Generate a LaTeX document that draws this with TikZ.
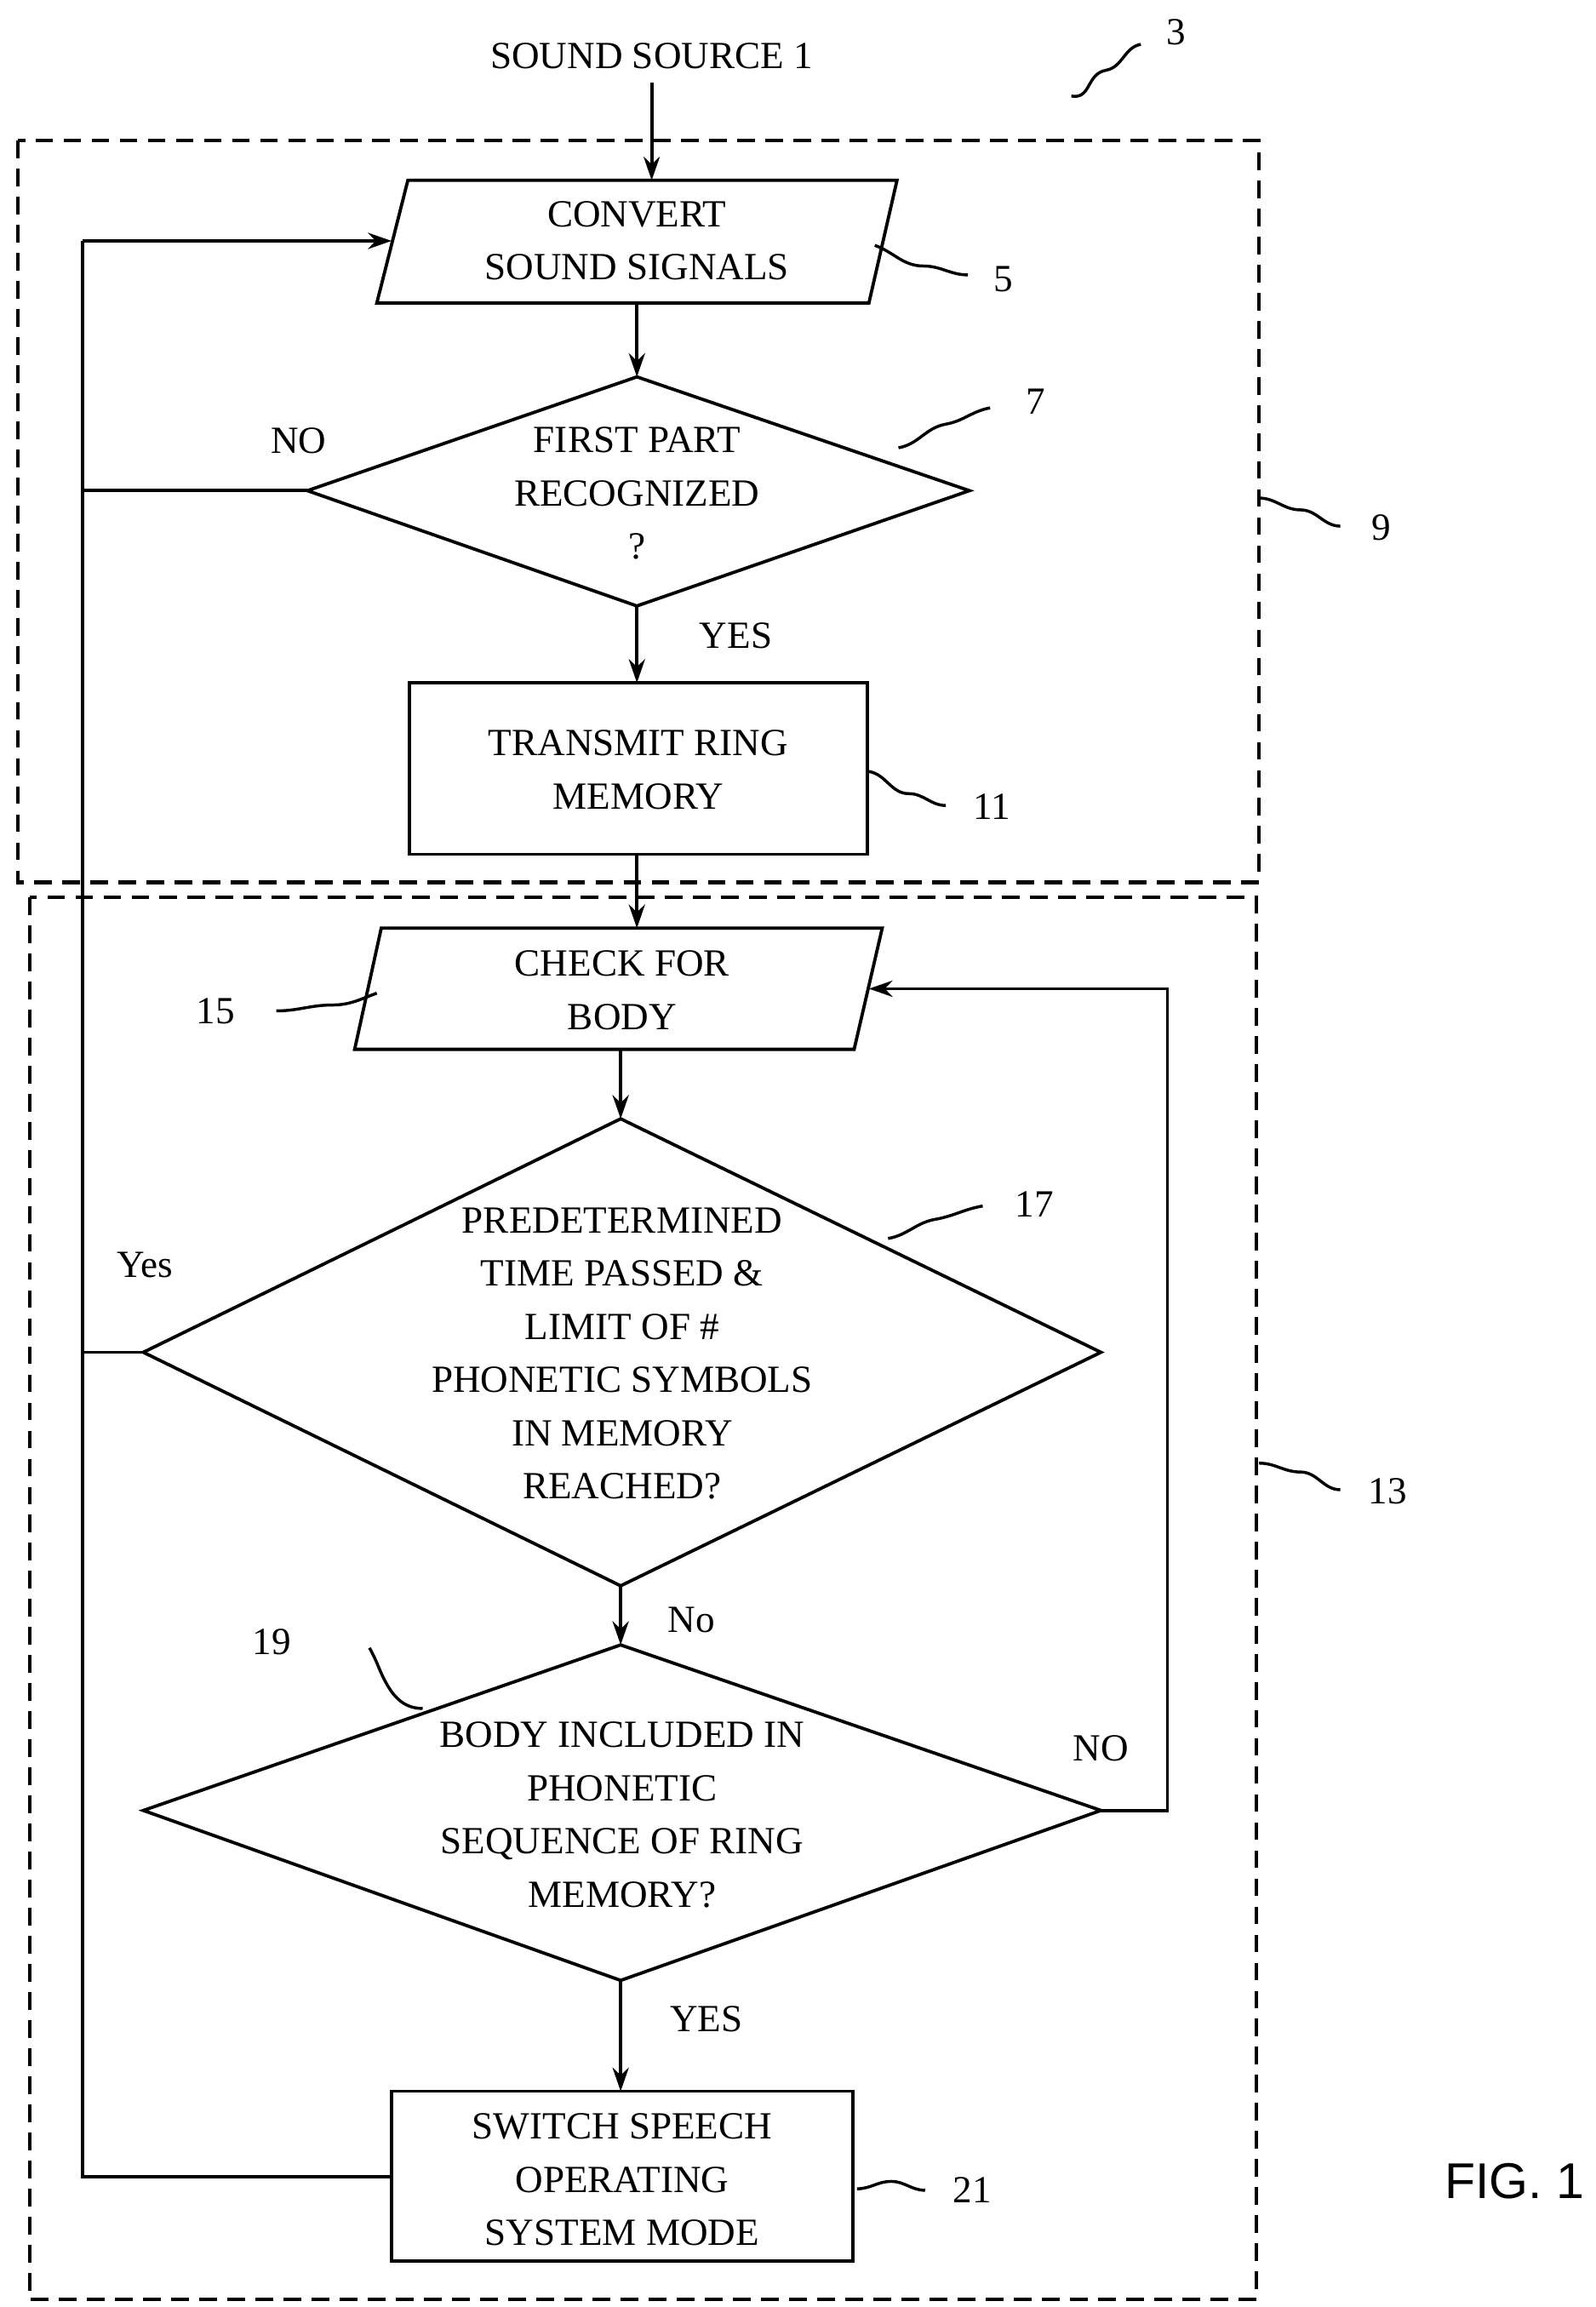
\documentclass[tikz,border=0pt]{standalone}
\usepackage{fontspec}
\setmainfont{Liberation Serif}
\newfontfamily\figfont{Liberation Sans}
\usetikzlibrary{arrows.meta,calc}
\begin{document}
\begin{tikzpicture}[x=1pt,y=-1pt,
  line width=2.2pt,
  txt/.style={font=\fontsize{26}{36}\selectfont, align=center, inner sep=0pt},
  lbl/.style={font=\fontsize{26}{30}\selectfont, inner sep=0pt},
  arr/.style={-{Stealth[length=16pt,width=11pt]}},
  dbox/.style={dashed, dash pattern=on 12pt off 7pt, line width=2.4pt},
  sq/.style={line width=2pt}]
\useasboundingbox (0,0) rectangle (1080,1561);

% dashed boxes
\draw[dbox] (12,95) rectangle (852,597);
\draw[dbox] (20,607) rectangle (850,1556);

% source
\node[txt] (src) at (441,38) {SOUND SOURCE 1};
\node[lbl] (l3) at (796,22) {3};
\coordinate (s3a) at (725,65); \coordinate (s3b) at (772,30);
\draw[sq] (s3a) to[out=-10,in=190,looseness=1.2] ($(s3a)!0.5!(s3b)$) to[out=10,in=190] (s3b);

% box 5 parallelogram
\coordinate (p5a) at (276,122); \coordinate (p5b) at (607,122);
\coordinate (p5c) at (588,205); \coordinate (p5d) at (255,205);
\draw (p5a)--(p5b)--(p5c)--(p5d)--cycle;
\node[txt] (n5) at (431,163) {CONVERT\\SOUND SIGNALS};
\coordinate (n5top) at (441,122); \coordinate (n5bot) at (431,205);
\coordinate (n5left) at (265,163);
\coordinate (srcb) at (441,56);
\draw[arr] (srcb) -- (n5top);

% diamond 7
\coordinate (d7t) at (431,255); \coordinate (d7r) at (656,332);
\coordinate (d7b) at (431,410); \coordinate (d7l) at (208,332);
\draw (d7t)--(d7r)--(d7b)--(d7l)--cycle;
\node[txt] (n7) at (431,334) {FIRST PART\\RECOGNIZED\\?};
\draw[arr] (n5bot) -- (d7t);

% rect 11
\draw (277,462) rectangle (587,578);
\node[txt] (n11) at (432,521) {TRANSMIT RING\\MEMORY};
\coordinate (r11t) at (431,462); \coordinate (r11b) at (431,578);
\draw[arr] (d7b) -- (r11t);

% parallelogram 15
\coordinate (p15a) at (258,628); \coordinate (p15b) at (597,628);
\coordinate (p15c) at (578,710); \coordinate (p15d) at (240,710);
\draw (p15a)--(p15b)--(p15c)--(p15d)--cycle;
\node[txt] (n15) at (421,670) {CHECK FOR\\BODY};
\coordinate (p15t) at (431,628); \coordinate (p15bot) at (420,710);
\coordinate (p15r) at (588,669);
\draw[arr] (r11b) -- (p15t);

% diamond 17
\coordinate (d17t) at (420,757); \coordinate (d17r) at (745,915);
\coordinate (d17b) at (420,1073); \coordinate (d17l) at (97,915);
\draw (d17t)--(d17r)--(d17b)--(d17l)--cycle;
\node[txt] (n17) at (421,916) {PREDETERMINED\\TIME PASSED \&\\LIMIT OF \#\\PHONETIC SYMBOLS\\IN MEMORY\\REACHED?};
\draw[arr] (p15bot) -- (d17t);

% diamond 19
\coordinate (d19t) at (420,1113); \coordinate (d19r) at (745,1225);
\coordinate (d19b) at (420,1340); \coordinate (d19l) at (97,1225);
\draw (d19t)--(d19r)--(d19b)--(d19l)--cycle;
\node[txt] (n19) at (421,1228) {BODY INCLUDED IN\\PHONETIC\\SEQUENCE OF RING\\MEMORY?};
\draw[arr] (d17b) -- (d19t);

% rect 21
\draw (265,1415) rectangle (577,1530);
\node[txt] (n21) at (421,1475) {SWITCH SPEECH\\OPERATING\\SYSTEM MODE};
\coordinate (r21t) at (420,1415); \coordinate (r21l) at (265,1473);
\draw[arr] (d19b) -- (r21t);

% feedback lines
\coordinate (c1) at (56,1473); \coordinate (c2) at (56,332);
\coordinate (c3) at (56,163); \coordinate (c4) at (56,915);
\draw (r21l) -- (c1) -- (c3);
\draw (d7l) -- (c2);
\draw (d17l) -- (c4);
\draw[arr] (c3) -- (n5left);
\coordinate (c5) at (790,1225); \coordinate (c6) at (790,669);
\draw[arr] (d19r) -- (c5) -- (c6) -- (p15r);

% branch labels
\node[lbl] (no1) at (202,298) {NO};
\node[lbl] (yes1) at (498,430) {YES};
\node[lbl] (yes2) at (98,856) {Yes};
\node[lbl] (no2) at (468,1096) {No};
\node[lbl] (no3) at (745,1183) {NO};
\node[lbl] (yes3) at (478,1366) {YES};

% reference numerals with squiggles
\node[lbl] (l5) at (679,189) {5};
\draw[sq] (592,166) to[out=-20,in=180] (625,180) to[out=0,in=180] (655,186);
\node[lbl] (l7) at (701,272) {7};
\draw[sq] (608,303) to[out=10,in=190] (640,287) to[out=10,in=190] (670,276);
\node[lbl] (l9) at (935,357) {9};
\draw[sq] (852,337) to[out=0,in=180] (880,345) to[out=0,in=180] (907,356);
\node[lbl] (l11) at (671,546) {11};
\draw[sq] (588,522) to[out=-10,in=180] (615,537) to[out=0,in=180] (640,545);
\node[lbl] (l13) at (939,1009) {13};
\draw[sq] (852,990) to[out=0,in=180] (880,996) to[out=0,in=180] (907,1008);
\node[lbl] (l15) at (146,684) {15};
\draw[sq] (187,684) to[out=0,in=180] (225,680) to[out=0,in=200] (255,672);
\node[lbl] (l17) at (700,815) {17};
\draw[sq] (601,838) to[out=10,in=190] (633,825) to[out=10,in=190] (665,816);
\node[lbl] (l19) at (184,1111) {19};
\draw[sq] (250,1115) to[out=-60,in=120] (262,1140) to[out=-60,in=180] (286,1156);
\node[lbl] (l21) at (658,1482) {21};
\draw[sq] (580,1481) to[out=0,in=180] (603,1476) to[out=0,in=180] (626,1482);

\node[font=\figfont\fontsize{34}{40}\selectfont, inner sep=0pt] (fig) at (1025,1476) {FIG. 1};
\end{tikzpicture}
\end{document}
